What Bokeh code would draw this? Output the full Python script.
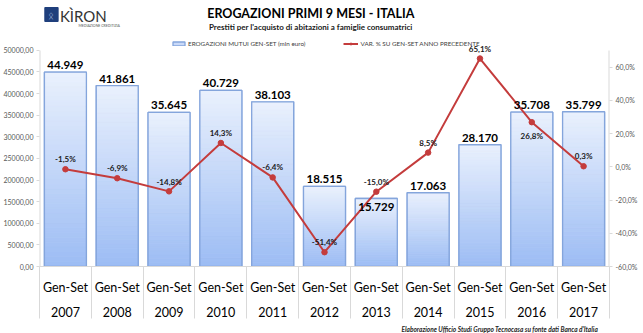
import numpy as np
from bokeh.plotting import figure
from bokeh.layouts import column
from bokeh.models import Range1d, LinearAxis, FixedTicker, Legend, LegendItem
from bokeh.embed import file_html
from bokeh.resources import INLINE
from bokeh.core.properties import value

# ---------------- data ----------------
periods = ["Gen-Set"] * 11
years = ["2007", "2008", "2009", "2010", "2011", "2012", "2013", "2014", "2015", "2016", "2017"]
erogazioni = [44949, 41861, 35645, 40729, 38103, 18515, 15729, 17063, 28170, 35708, 35799]
var_pct = [-1.5, -6.9, -14.8, 14.3, -6.4, -51.4, -15.0, 8.5, 65.1, 26.8, 0.3]
left_ticks = [0, 5000, 10000, 15000, 20000, 25000, 30000, 35000, 40000, 45000, 50000]
right_ticks = [-60, -40, -20, 0, 20, 40, 60]

title = "EROGAZIONI PRIMI 9 MESI - ITALIA"
subtitle = "Prestiti per l'acquisto di abitazioni a famiglie consumatrici"
footer = "Elaborazione Ufficio Studi Gruppo Tecnocasa su fonte dati Banca d'Italia"
legend_bar = "EROGAZIONI MUTUI GEN-SET (mln euro)"
legend_line = "VAR. % SU GEN-SET ANNO PRECEDENTE"

FONT = "Lato"
BAR_W = 0.81
W = 643
HEAD_H, MAIN_H, FOOT_H = 36, 287, 10
ML, MR, MB = 38, 34, 55
FRAME_H = MAIN_H - MB            # frame spans from top of main figure
PLOT_H = 218                      # pixels between 0 and 50000
n = len(years)
centers = [i + 0.5 for i in range(n)]

y_top = max(left_ticks) * FRAME_H / PLOT_H
pct_lo = min(right_ticks)
pct_span = 130.0
pct_top = pct_lo + pct_span * FRAME_H / PLOT_H

# ---------------- header figure ----------------
head = figure(width=W, height=HEAD_H, output_backend="svg", toolbar_location=None,
              x_range=Range1d(0, W), y_range=Range1d(HEAD_H, 0),
              x_axis_type=None, y_axis_type=None, min_border=0,
              min_border_left=0, min_border_right=0, min_border_top=0, min_border_bottom=0)
head.xgrid.visible = False
head.ygrid.visible = False
head.outline_line_color = None
head.text(x=[306], y=[12.5], text=[title], text_align="center", text_baseline="middle",
          text_font=value(FONT), text_font_style="bold", text_font_size="12.5px",
          text_color="black")
head.text(x=[306], y=[26.5], text=[subtitle], text_align="center", text_baseline="middle",
          text_font=value(FONT), text_font_style="bold", text_font_size="8px",
          text_color="#1a1a1a")
# logo
head.quad(left=[6], right=[21], top=[7], bottom=[21], fill_color="#1f3f7c",
          line_color="#1f3f7c")
head.text(x=[13.5], y=[14.5], text=["ᛟ"], text_align="center", text_baseline="middle",
          text_font=value("DejaVu Sans"), text_font_size="10px", text_color="#9fb6dd")
head.text(x=[23], y=[15], text=["KÌRON"], text_align="left", text_baseline="middle",
          text_font=value(FONT), text_font_size="15px", text_color="#333333")
head.text(x=[44], y=[25], text=["MEDIAZIONE CREDITIZIA"], text_align="left",
          text_baseline="middle", text_font=value(FONT), text_font_size="3.5px",
          text_color="#555555")

# ---------------- main figure ----------------
p = figure(width=W, height=MAIN_H, output_backend="svg", toolbar_location=None,
           x_range=Range1d(0, n), y_range=Range1d(0, y_top),
           min_border_left=ML, min_border_right=MR, min_border_top=0, min_border_bottom=MB)
p.extra_y_ranges = {"pct": Range1d(pct_lo, pct_top)}
p.xgrid.visible = False
p.ygrid.visible = False
p.outline_line_color = None

BAR_EDGE = "#84a5dc"
# base bars (flat fill, used for the legend swatch)
r_bar_base = p.vbar(x=centers, top=erogazioni, width=BAR_W, fill_color="#c9d9f8",
                    line_color=BAR_EDGE, line_width=1.3)
# vertical gradient on top
N = 40
top_c = np.array([0xEA, 0xF1, 0xFD], dtype=float)
bot_c = np.array([0x9C, 0xBC, 0xF4], dtype=float)
xs, bots, tops, cols = [], [], [], []
for c, v in zip(centers, erogazioni):
    for k in range(N):
        xs.append(c)
        bots.append(v * k / N)
        tops.append(v * (k + 1) / N)
        t = (k + 0.5) / N
        rgb = bot_c + (top_c - bot_c) * t
        cols.append("#%02x%02x%02x" % tuple(int(round(x)) for x in rgb))
p.vbar(x=xs, bottom=bots, top=tops, width=BAR_W, fill_color=cols, line_color=cols,
       line_width=0.6)
p.vbar(x=centers, top=erogazioni, width=BAR_W, fill_color=None, line_color=BAR_EDGE,
       line_width=1.3)

# axis lines (only up to the top tick, like the reference)
AX_C = "#d9d9d9"
LAB_C = "#595959"
p.segment(x0=[0, n], y0=[0, 0], x1=[0, n], y1=[max(left_ticks)] * 2,
          line_color=AX_C, line_width=2)

# line
LINE_C = "#c43c3c"
r_line = p.line(x=centers, y=var_pct, y_range_name="pct", line_color=LINE_C, line_width=2)
r_pts = p.scatter(x=centers, y=var_pct, y_range_name="pct", size=5.5, fill_color=LINE_C,
                  line_color=LINE_C)

# value labels
bar_lab = [f"{v:,}".replace(",", ".") for v in erogazioni]
bar_off = [-3] * n
bar_base = ["bottom"] * n
bar_off[6] = 4
bar_base[6] = "top"
p.text(x=centers, y=erogazioni, text=bar_lab, text_align="center",
       text_baseline=bar_base, y_offset=bar_off, text_font=value(FONT),
       text_font_style="bold", text_font_size="11.5px", text_color="black")

pct_lab = [f"{v:.1f}%".replace(".", ",") for v in var_pct]
pct_off = [-10] * n
pct_off[2] = -9
pct_off[9] = 14
p.text(x=centers, y=var_pct, y_range_name="pct", text=pct_lab, text_align="center",
       text_baseline="middle", y_offset=pct_off, text_font=value(FONT),
       text_font_style="bold", text_font_size="8px", text_color="#1a1a1a")

# axes
ya = p.yaxis[0]
ya.ticker = FixedTicker(ticks=left_ticks)
ya.major_label_overrides = {t: f"{t},00" for t in left_ticks}
ya.axis_line_color = None
ya.major_tick_line_color = AX_C
ya.major_tick_out = 3
ya.major_tick_in = 0
ya.minor_tick_line_color = None
ya.major_label_text_font = FONT
ya.major_label_text_font_size = "7px"
ya.major_label_text_color = LAB_C
ya.major_label_standoff = 3

ra = LinearAxis(y_range_name="pct", ticker=FixedTicker(ticks=right_ticks))
ra.major_label_overrides = {t: f"{t:.1f}%".replace(".", ",") for t in right_ticks}
ra.axis_line_color = None
ra.major_tick_line_color = AX_C
ra.major_tick_out = 3
ra.major_tick_in = 0
ra.minor_tick_line_color = None
ra.major_label_text_font = FONT
ra.major_label_text_font_size = "7px"
ra.major_label_text_color = LAB_C
ra.major_label_standoff = 3
p.add_layout(ra, "right")

xa = p.xaxis[0]
xa.ticker = FixedTicker(ticks=centers, minor_ticks=list(range(n + 1)))
xa.major_label_overrides = {c: f"{a}\n{b}" for c, a, b in zip(centers, periods, years)}
xa.axis_line_color = AX_C
xa.major_tick_line_color = None
xa.major_tick_out = 0
xa.major_tick_in = 0
xa.minor_tick_line_color = AX_C
xa.minor_tick_out = 52
xa.minor_tick_in = 0
xa.major_label_text_font = FONT
xa.major_label_text_font_size = "12.5px"
xa.major_label_text_color = "black"
xa.major_label_text_line_height = 1.7
xa.major_label_standoff = -39

# legend
legend = Legend(items=[
    LegendItem(label=legend_bar, renderers=[r_bar_base]),
    LegendItem(label=legend_line, renderers=[r_line, r_pts]),
], orientation="horizontal", location=(132, 219))
legend.label_text_font = FONT
legend.label_text_font_size = "6.3px"
legend.label_text_color = "#404040"
legend.glyph_width = 15
legend.glyph_height = 5
legend.label_standoff = 2
legend.label_height = 8
legend.spacing = 38
legend.padding = 2
legend.margin = 0
legend.border_line_color = None
legend.background_fill_alpha = 0
p.add_layout(legend)

# ---------------- footer figure ----------------
foot = figure(width=W, height=FOOT_H, output_backend="svg", toolbar_location=None,
              x_range=Range1d(0, W), y_range=Range1d(FOOT_H, 0),
              x_axis_type=None, y_axis_type=None, min_border=0,
              min_border_left=0, min_border_right=0, min_border_top=0, min_border_bottom=0)
foot.xgrid.visible = False
foot.ygrid.visible = False
foot.outline_line_color = None
foot.text(x=[630], y=[3.5], text=[footer], text_align="right", text_baseline="middle",
          text_font=value(FONT), text_font_style="bold italic", text_font_size="6.5px",
          text_color="#262626")

layout = column(head, p, foot, spacing=0)
open("out.html", "w").write(file_html(layout, INLINE))
